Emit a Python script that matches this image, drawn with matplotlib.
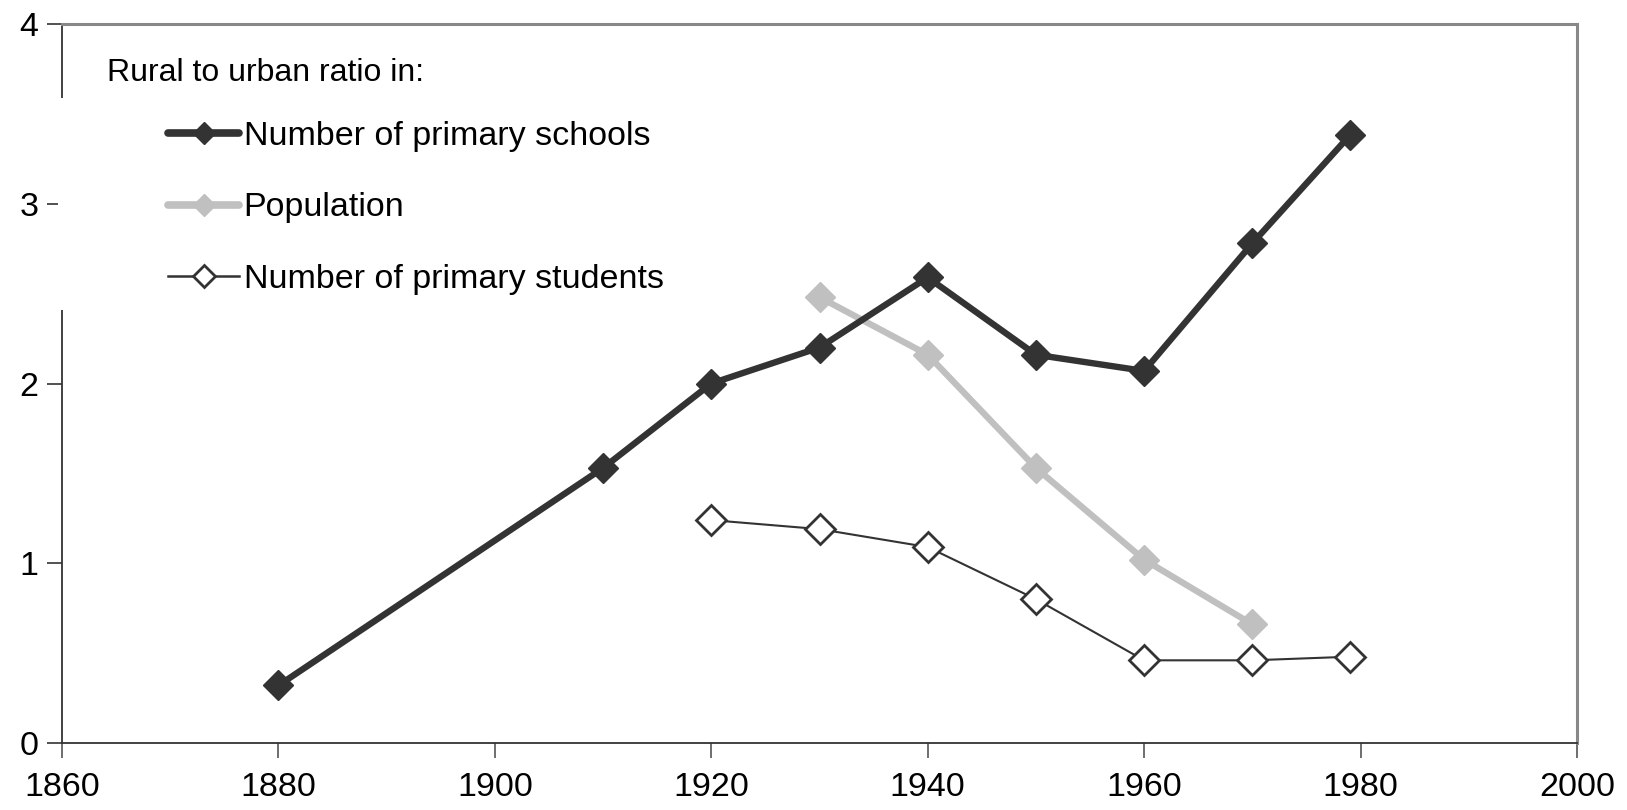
"""Rural to urban ratio chart."""
import matplotlib
matplotlib.use("Agg")
import matplotlib.pyplot as plt
from matplotlib.lines import Line2D
from matplotlib.patches import Rectangle

plt.rcParams["font.family"] = ["Liberation Sans", "DejaVu Sans"]

school_years = [1880, 1910, 1920, 1930, 1940, 1950, 1960, 1970, 1979]
schools = [0.32, 1.53, 2.00, 2.20, 2.59, 2.16, 2.07, 2.78, 3.38]

pop_years = [1930, 1940, 1950, 1960, 1970]
population = [2.48, 2.16, 1.53, 1.02, 0.66]

student_years = [1920, 1930, 1940, 1950, 1960, 1970, 1979]
students = [1.24, 1.19, 1.09, 0.80, 0.46, 0.46, 0.48]

x_ticks = [1860, 1880, 1900, 1920, 1940, 1960, 1980, 2000]
y_ticks = [0, 1, 2, 3, 4]

legend_title = "Rural to urban ratio in:"
labels = ["Number of primary schools", "Population", "Number of primary students"]

dark = "#333333"
light = "#c0c0c0"


def main() -> None:
    fig = plt.figure(figsize=(16.27, 8.10), dpi=100)
    ax = fig.add_axes([62 / 1627, 1 - 743 / 810, (1577 - 62) / 1627, (743 - 24) / 810])

    ax.plot(school_years, schools, color=dark, lw=4.6, marker="D", ms=15.5,
            mfc=dark, mec=dark, zorder=4)
    ax.plot(pop_years, population, color=light, lw=4.6, marker="D", ms=15.5,
            mfc=light, mec=light, zorder=3)
    ax.plot(student_years, students, color=dark, lw=1.5, marker="D", ms=15.5,
            mfc="white", mec=dark, mew=2.0, zorder=5)

    ax.set_xlim(1860, 2000)
    ax.set_ylim(0, 4)
    ax.set_xticks(x_ticks)
    ax.set_yticks(y_ticks)
    ax.tick_params(axis="x", direction="out", length=11, width=1.2, color="#555555",
                   labelsize=24.5, pad=10)
    ax.tick_params(axis="y", direction="out", length=11, width=1.2, color=dark,
                   labelsize=24.5, pad=6)
    for side in ("left", "bottom"):
        ax.spines[side].set_color(dark)
        ax.spines[side].set_linewidth(1.3)
    for side in ("top", "right"):
        ax.spines[side].set_color("#888888")
        ax.spines[side].set_linewidth(2.2)

    # white legend block hides a piece of the left axis line, as in the original
    fig.patches.append(Rectangle((58 / 1627, 1 - 310 / 810), 10 / 1627, 212 / 810,
                                 transform=fig.transFigure, facecolor="white",
                                 edgecolor="none", zorder=10))

    ax.text(107 / 1627, 1 - 73 / 810, legend_title, transform=fig.transFigure,
            fontsize=23, va="center", ha="left")

    handles = [
        Line2D([], [], color=dark, lw=5.5, marker="D", ms=11.5, mfc=dark, mec=dark,
               solid_capstyle="round"),
        Line2D([], [], color=light, lw=5.5, marker="D", ms=11.5, mfc=light, mec=light,
               solid_capstyle="round"),
        Line2D([], [], color=dark, lw=1.8, marker="D", ms=11.5, mfc="white", mec=dark,
               mew=2.0),
    ]
    ax.legend(handles, labels, loc="upper left",
              bbox_to_anchor=(168 / 1627, 1 - 121 / 810), bbox_transform=fig.transFigure,
              frameon=False, fontsize=24.5, handlelength=2.1, handletextpad=0.12,
              labelspacing=1.19, borderpad=0, borderaxespad=0)

    fig.savefig("out.png", dpi=100)
    plt.close(fig)


if __name__ == "__main__":
    main()
